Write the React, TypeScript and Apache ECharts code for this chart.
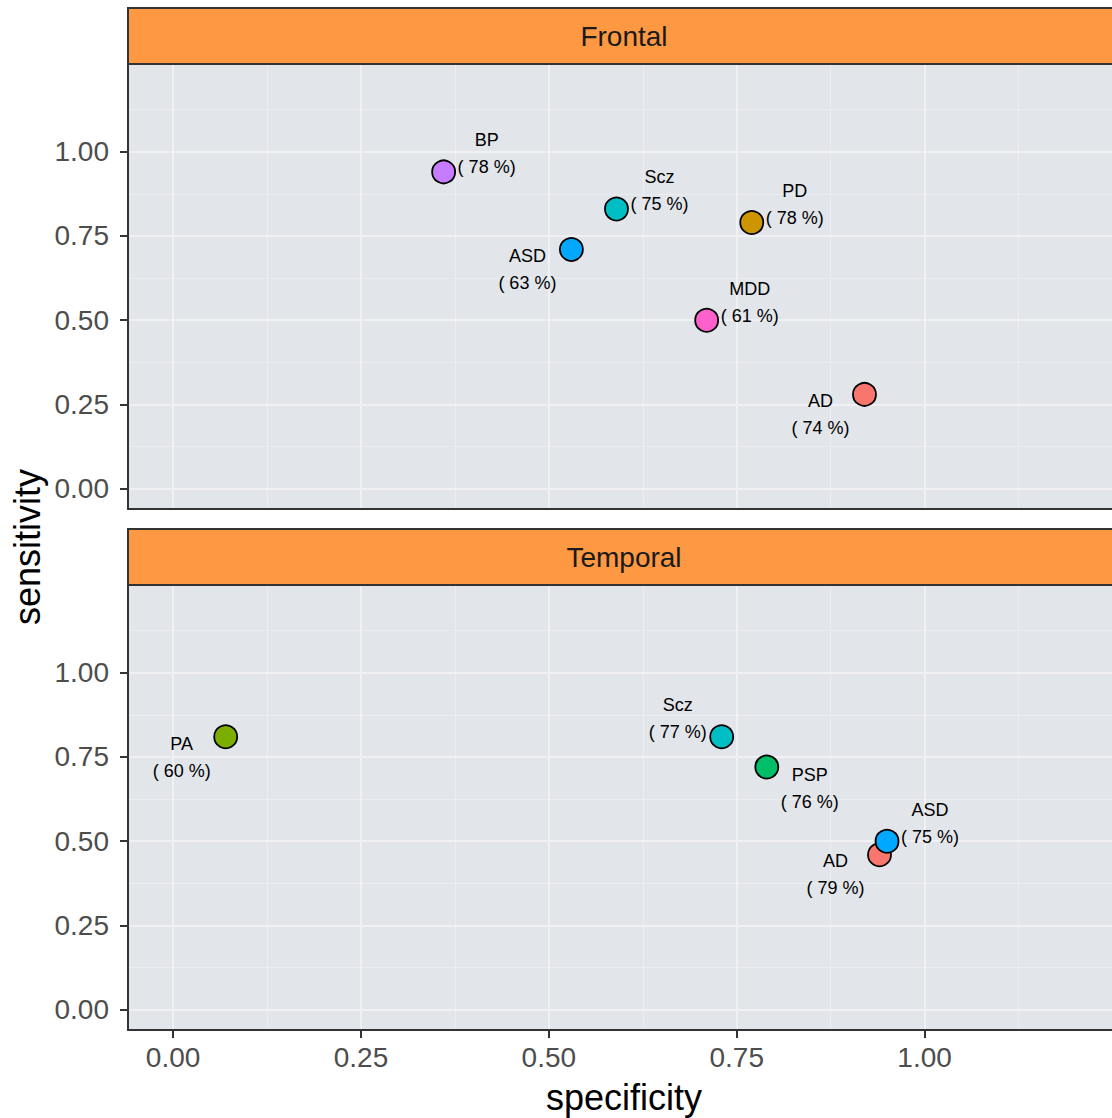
import React, { useEffect, useRef } from "react";
import * as echarts from "echarts";

// ---------- data ----------
const panelTitles = ["Frontal", "Temporal"];

const frontalNames = ["BP", "Scz", "PD", "ASD", "MDD", "AD"];
const frontalSpecificity = [0.36, 0.59, 0.77, 0.53, 0.71, 0.92];
const frontalSensitivity = [0.94, 0.83, 0.79, 0.71, 0.5, 0.28];
const frontalAccuracy = [78, 75, 78, 63, 61, 74];

const temporalNames = ["PA", "Scz", "PSP", "AD", "ASD"];
const temporalSpecificity = [0.07, 0.73, 0.79, 0.94, 0.95];
const temporalSensitivity = [0.81, 0.81, 0.72, 0.46, 0.5];
const temporalAccuracy = [60, 77, 76, 79, 75];

const majorBreaks = [0, 0.25, 0.5, 0.75, 1.0];
const minorBreaks = [0.125, 0.375, 0.625, 0.875, 1.125];
const axisMin = -0.06;
const axisMax = 1.26;

// ---------- styles / layout ----------
const diseaseColors: Record<string, string> = {
  AD: "#F8766D",
  ASD: "#00A9FF",
  BP: "#C77CFF",
  MDD: "#FF61CC",
  PA: "#7CAE00",
  PD: "#CD9600",
  PSP: "#00BE67",
  Scz: "#00BFC4",
};

// label block offsets from point centre (px)
const frontalLabelOffsets = [
  [43, -18],
  [43, -18],
  [43, -18],
  [-44, 20],
  [43, -18],
  [-44, 20],
];
const temporalLabelOffsets = [
  [-44, 21],
  [-44, -18],
  [43, 21],
  [-44, 20],
  [43, -18],
];

const FONT = "'Liberation Sans', Arial, Helvetica, sans-serif";
const PANEL_LEFT = 128;
const PANEL_WIDTH = 992;
const PANEL_HEIGHT = 445;
const STRIP_HEIGHT = 56;
const panelTops = [64, 585];
const AXIS_COLOR = "#333333";
const PANEL_BG = "#E2E5EA";
const GRID_MAJOR = "#F1F1F3";
const GRID_MINOR = "#ECEDF0";

function buildAxes(dim: "x" | "y", gridIndex: number, showLabels: boolean) {
  const isX = dim === "x";
  const minor = {
    type: "value",
    gridIndex,
    min: axisMin,
    max: axisMax,
    position: isX ? "bottom" : "left",
    axisLine: { show: false },
    axisTick: { show: false, customValues: minorBreaks },
    axisLabel: { show: false, customValues: minorBreaks },
    splitLine: { show: true, lineStyle: { color: GRID_MINOR, width: 1 } },
    z: 0,
  };
  const major = {
    type: "value",
    gridIndex,
    min: axisMin,
    max: axisMax,
    position: isX ? "bottom" : "left",
    axisLine: { show: true, onZero: false, lineStyle: { color: AXIS_COLOR, width: 2 } },
    axisTick: {
      show: showLabels,
      length: 8,
      customValues: majorBreaks,
      lineStyle: { color: AXIS_COLOR, width: 2 },
    },
    axisLabel: {
      show: showLabels,
      customValues: majorBreaks,
      formatter: (v: number) => v.toFixed(2),
      fontSize: 28,
      color: "#4D4D4D",
      fontFamily: FONT,
      margin: isX ? 13 : 19,
    },
    splitLine: { show: true, lineStyle: { color: GRID_MAJOR, width: 2 } },
    z: 1,
  };
  return [minor, major];
}

function buildSeries(
  names: string[],
  spec: number[],
  sens: number[],
  acc: number[],
  offsets: number[][],
  gridIndex: number
) {
  return {
    type: "scatter",
    xAxisIndex: gridIndex * 2 + 1,
    yAxisIndex: gridIndex * 2 + 1,
    symbol: "circle",
    symbolSize: 23,
    z: 5,
    emphasis: { disabled: true },
    itemStyle: { borderColor: "#000000", borderWidth: 1.8, opacity: 1 },
    label: {
      show: true,
      position: "inside",
      align: "center",
      verticalAlign: "middle",
      fontSize: 18,
      lineHeight: 27,
      color: "#000000",
      fontFamily: FONT,
      formatter: (p: any) => `${p.name}\n( ${p.value[2]} %)`,
    },
    data: names.map((n, i) => ({
      name: n,
      value: [spec[i], sens[i], acc[i]],
      itemStyle: { color: diseaseColors[n] },
      label: { offset: offsets[i] },
    })),
  };
}

export default function App() {
  const ref = useRef<HTMLDivElement>(null);

  useEffect(() => {
    if (!ref.current) return;
    const chart = echarts.init(ref.current, undefined, { renderer: "svg" });

    const grids = panelTops.map((top) => ({
      left: PANEL_LEFT,
      top,
      width: PANEL_WIDTH,
      height: PANEL_HEIGHT,
      show: true,
      backgroundColor: PANEL_BG,
      borderWidth: 0,
      containLabel: false,
      outerBoundsMode: "none",
    }));

    const xAxes = [...buildAxes("x", 0, false), ...buildAxes("x", 1, true)];
    const yAxes = [...buildAxes("y", 0, true), ...buildAxes("y", 1, true)];

    const strips: any[] = [];
    panelTitles.forEach((t, i) => {
      const y = panelTops[i] - STRIP_HEIGHT;
      strips.push({
        type: "rect",
        shape: { x: PANEL_LEFT, y, width: PANEL_WIDTH, height: STRIP_HEIGHT },
        style: { fill: "#FE9843", stroke: AXIS_COLOR, lineWidth: 2 },
        z: 10,
      });
      strips.push({
        type: "text",
        x: PANEL_LEFT + PANEL_WIDTH / 2,
        y: y + STRIP_HEIGHT / 2,
        style: {
          text: t,
          fontSize: 28,
          fill: "#1A1A1A",
          fontFamily: FONT,
          align: "center",
          verticalAlign: "middle",
        },
        z: 11,
      });
    });

    chart.setOption({
      animation: false,
      backgroundColor: "#FFFFFF",
      grid: grids,
      xAxis: xAxes,
      yAxis: yAxes,
      series: [
        buildSeries(
          frontalNames,
          frontalSpecificity,
          frontalSensitivity,
          frontalAccuracy,
          frontalLabelOffsets,
          0
        ),
        buildSeries(
          temporalNames,
          temporalSpecificity,
          temporalSensitivity,
          temporalAccuracy,
          temporalLabelOffsets,
          1
        ),
      ],
      graphic: [
        ...strips,
        {
          type: "text",
          x: 27,
          y: 547,
          rotation: Math.PI / 2,
          style: {
            text: "sensitivity",
            fontSize: 36,
            fill: "#000000",
            fontFamily: FONT,
            align: "center",
            verticalAlign: "middle",
          },
        },
        {
          type: "text",
          x: 624,
          y: 1097,
          style: {
            text: "specificity",
            fontSize: 36,
            fill: "#000000",
            fontFamily: FONT,
            align: "center",
            verticalAlign: "middle",
          },
        },
      ],
    });

    return () => chart.dispose();
  }, []);

  return (
    <div
      ref={ref}
      style={{
        position: "fixed",
        left: 0,
        top: 0,
        width: 1112,
        height: 1118,
        background: "#FFFFFF",
      }}
    />
  );
}
